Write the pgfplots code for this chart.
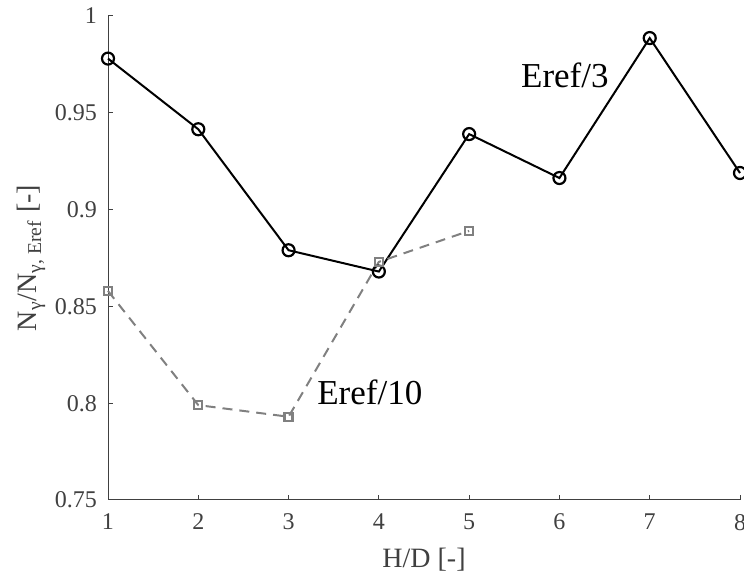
\documentclass[border=0pt]{standalone}
\usepackage{fontspec}
\setmainfont{Liberation Serif}
\usepackage{pgfplots}
\pgfplotsset{compat=1.18}
\definecolor{axgray}{RGB}{64,64,64}
\definecolor{sergray}{RGB}{128,128,128}
\begin{document}
\begin{tikzpicture}
\begin{axis}[
  name=ax,
  width=316pt, height=242pt, scale only axis,
  xmin=1, xmax=8, ymin=0.75, ymax=1,
  axis lines=left,
  axis line style={-, axgray, line width=0.5pt},
  tick align=inside,
  major tick length=2.5pt,
  tick style={axgray, line width=0.5pt},
  xtick={1,2,3,4,5,6,7,8},
  ytick={0.75,0.8,0.85,0.9,0.95,1},
  yticklabels={0.75,0.8,0.85,0.9,0.95,1},
  /pgf/number format/assume math mode=true,
  ticklabel style={font=\fontsize{12}{14}\selectfont, text=axgray},
  xticklabel style={yshift=-3.5pt},
  yticklabel style={xshift=-2pt},
  label style={font=\fontsize{14}{16}\selectfont, text=axgray},
  xlabel={H/D [-]},
  ylabel={N\textsubscript{γ}/N\textsubscript{γ, Eref} [-]},
  xlabel style={yshift=-2pt},
  ylabel style={yshift=-2pt},
  clip=false,
]
\addplot[black, line width=1pt, mark=o, mark size=3pt,
  mark options={fill=white, solid, line width=1.1pt}]
  coordinates {(1,0.978) (2,0.9415) (3,0.879) (4,0.868) (5,0.939) (6,0.9163) (7,0.9886) (8,0.9189)};
\addplot[sergray, line width=1pt, dash pattern=on 5pt off 3.5pt, mark=square, mark size=2pt,
  mark options={fill=white, solid, line width=1.1pt}]
  coordinates {(1,0.858) (2,0.799) (3,0.793) (4,0.873) (5,0.889)};
\node[font=\fontsize{17.5}{20}\selectfont, anchor=center] at (axis cs:6.06,0.9695) {Eref/3};
\node[font=\fontsize{17.5}{20}\selectfont, anchor=center] at (axis cs:3.90,0.8058) {Eref/10};
\coordinate (bl) at (rel axis cs:0,0);
\coordinate (tr) at (rel axis cs:1,1);
\end{axis}
\pgfresetboundingbox
\path ([shift={(-54pt,-37pt)}]bl) rectangle ([shift={(2pt,8pt)}]tr);
\end{tikzpicture}
\end{document}
